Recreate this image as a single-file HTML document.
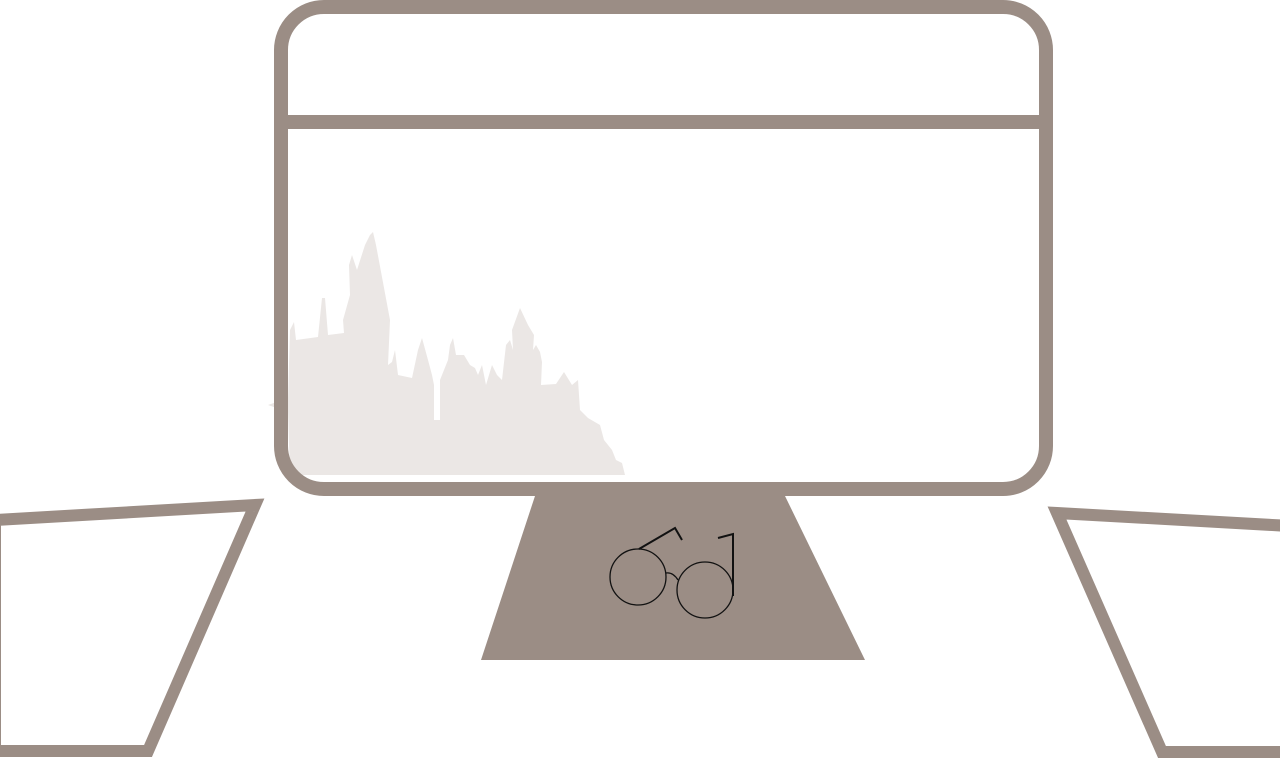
<!DOCTYPE html>
<html><head><meta charset="utf-8"><style>html,body{margin:0;padding:0;background:#fff;}svg{display:block;}</style></head>
<body>
<svg width="1280" height="759" viewBox="0 0 1280 759" xmlns="http://www.w3.org/2000/svg">
<path fill="#ebe7e5" d="M268,405 L288,398 L290,330 L294,322 L296,340 L318,337 L322,298 L325,298 L328,335 L344,333 L343,320 L350,295 L349,265 L352,255 L357,270 L365,245 L370,235 L373,232 L376,245 L390,320 L388,365 L392,362 L395,350 L398,375 L412,378 L418,350 L422,338 L428,360 L432,375 L434,385 L434,420 L440,420 L440,380 L448,360 L450,345 L453,338 L456,355 L464,355 L470,365 L475,368 L478,375 L482,365 L486,385 L492,365 L497,375 L502,380 L506,345 L510,340 L513,350 L512,330 L520,308 L528,325 L534,335 L533,350 L536,345 L540,352 L542,362 L541,385 L556,384 L564,372 L572,385 L578,380 L580,410 L588,418 L600,425 L604,440 L612,450 L616,460 L622,463 L625,475 L290,475 L288,412 Z"/>
<rect x="281" y="7" width="765" height="482" rx="43" fill="none" stroke="#9b8d85" stroke-width="14"/>
<line x1="281" y1="122" x2="1046" y2="122" stroke="#9b8d85" stroke-width="14"/>
<polygon points="535,496 785,496 865,660 481,660" fill="#9b8d85"/>
<g fill="none" stroke="#111" stroke-width="1.3">
<circle cx="638" cy="577" r="28"/>
<circle cx="705" cy="590" r="28"/>
<path d="M666,573 Q673,572 678,580"/>
<path d="M639,549 L675,528 L682,540" stroke-width="2"/>
<path d="M718,538 L733,534 L733,596" stroke-width="2"/>
</g>
<polygon points="-5,520 255,505 148,751 -5,751" fill="none" stroke="#9b8d85" stroke-width="12"/>
<polygon points="1057,513 1290,526 1290,752 1162,752" fill="none" stroke="#9b8d85" stroke-width="12"/>
</svg>
</body></html>
